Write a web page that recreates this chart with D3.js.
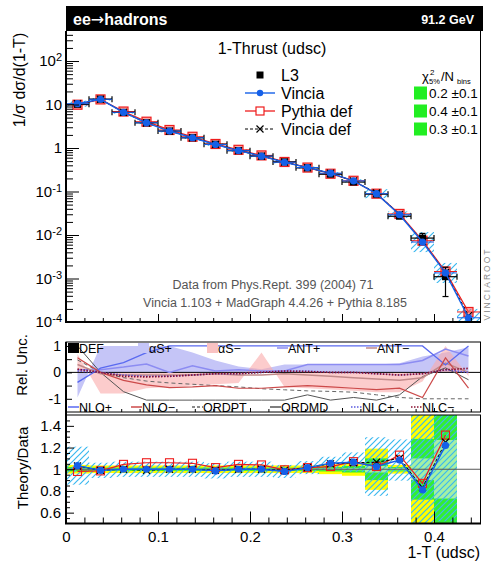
<!DOCTYPE html>
<html>
<head>
<meta charset="utf-8">
<script src="https://cdn.jsdelivr.net/npm/d3@7"></script>
<style>
body { margin: 0; background: #fff; }
text { font-family: "Liberation Sans", Arial, sans-serif; }
</style>
</head>
<body>
<svg width="491" height="564"></svg>
<script>
// bins of 1-T
var edges = [0, 0.025, 0.05, 0.075, 0.1, 0.125, 0.15, 0.175, 0.2, 0.225, 0.25, 0.275, 0.3, 0.325, 0.35, 0.375, 0.4, 0.425, 0.45];

// L3 data, 1/sigma dsigma/d(1-T)
var l3 = [10.1, 13.3, 6.6, 3.8, 2.45, 1.72, 1.22, 0.87, 0.65, 0.48, 0.35, 0.25, 0.165, 0.087, 0.027, 0.0085, 0.0011];

// theory / data
var rVincia    = [1.033, 0.99, 1.0, 1.0, 1.0, 1.0, 0.985, 1.0, 1.0, 0.98, 1.015, 1.055, 1.065, 1.025, 1.085, 0.81, 1.22];
var rPythia    = [0.98, 0.985, 1.045, 1.06, 1.06, 1.055, 1.015, 1.045, 1.04, 0.995, 1.015, 1.025, 1.07, 1.025, 1.13, 0.87, 1.315];
var rVinciaDef = [1.03, 0.99, 1.0, 0.99, 1.0, 1.0, 0.99, 1.0, 1.0, 0.99, 1.015, 1.05, 1.06, 1.065, 1.1, 0.83, 1.25];

// last bin (no data point)
var tailVincia = 1.25e-4, tailPythia = 1.7e-4, tailVinciaDef = 1.4e-4;

// relative data uncertainty bands and Vincia uncertainty (hatched)
var errPale   = [0.006, 0.005, 0.005, 0.005, 0.005, 0.005, 0.005, 0.005, 0.006, 0.006, 0.006, 0.008, 0.01, 0.03, 0.01, 0.1, 0.27];
var errGreen  = [0.02, 0.015, 0.015, 0.015, 0.015, 0.015, 0.015, 0.015, 0.015, 0.015, 0.015, 0.02, 0.03, 0.1, 0.02, 0.28, 0.65];
var errYellow = [0.04, 0.035, 0.035, 0.035, 0.035, 0.035, 0.035, 0.035, 0.035, 0.035, 0.035, 0.045, 0.06, 0.19, 0.04, 0.6, 1.2];
var errVincia = [0.175, 0.07, 0.07, 0.07, 0.07, 0.07, 0.07, 0.07, 0.07, 0.06, 0.06, 0.06, 0.09, 0.27, 0.19, 0.7, 0.7];
var errTail = 0.6;

// relative uncertainties (middle panel), 18 bins
var alphaSPlus  = [-0.95, 1.0, 1.0, 1.0, 1.0, 0.75, 0.45, 0.22, 0.12, 0.3, 0.3, 0.3, 0.3, 0.3, 0.35, 0.6, 0.75, 0.95];
var alphaSMinus = [0.7, -0.8, -0.8, -0.6, -0.55, -0.5, -0.45, -0.4, 0.75, -0.55, -0.6, -0.65, -0.7, -0.75, -0.75, -0.35, 1.0, -0.15];
var antPlus  = [0.1, 0.1, 0.2, 0.32, 0.0, 0.25, 0.05, 0.1, 0.05, 0.05, 0.3, 0.3, 0.3, 0.3, 0.3, 0.45, 0.88, 0.62];
var antMinus = [0.3, -0.05, -0.1, -0.1, -0.1, -0.1, -0.05, -0.1, -0.1, -0.05, -0.1, -0.15, -0.2, -0.25, -0.3, -0.2, 0.35, 0.0];
var nloPlus  = [-0.38, 0.16, 0.37, 0.75, 1.0, 1.0, 1.0, 1.0, 1.0, 1.0, 1.0, 1.0, 1.0, 1.0, 1.0, 1.0, 0.28, 1.0];
var nloMinus = [0.55, 0.0, -0.3, -0.47, -0.58, -0.55, -0.5, -0.6, -0.6, -0.55, -0.5, -0.55, -0.6, -0.65, -0.6, -0.95, 0.55, -0.6];
var ordPT = [0.47, 0.0, -0.2, -0.33, -0.4, -0.45, -0.5, -0.55, -0.62, -0.66, -0.7, -0.72, -0.75, -0.85, -0.95, -1.0, -1.0, -1.0];
var ordMD = [1.0, 0.0, -0.73, -1.05, -1.05, -1.05, -1.05, -1.05, -1.05, -1.05, -0.85, -1.05, -0.95, -1.05, -0.85, -0.16, 0.17, -0.28];
var nlcPlus  = [0.05, 0.0, -0.1, -0.15, -0.15, -0.1, -0.05, -0.05, 0.0, 0.05, 0.05, 0.0, 0.0, -0.05, -0.1, -0.05, 0.1, 0.0];
var nlcMinus = [0.12, 0.0, -0.15, -0.17, -0.15, -0.1, -0.05, -0.05, 0.0, 0.05, 0.03, 0.0, 0.0, -0.05, -0.1, -0.05, 0.1, 0.15];

var legendModels = ["L3", "Vincia", "Pythia def", "Vincia def"];
var chi2 = ["0.2 \u00b10.1", "0.4 \u00b10.1", "0.3 \u00b10.1"];
var xTicks = [0, 0.1, 0.2, 0.3, 0.4];
var ratioTicks = [0.6, 0.8, 1, 1.2, 1.4];

var blue = "#1560e8", red = "#ee1c1c";

var svg = d3.select("svg");
var centers = edges.slice(0, -1).map(function(e, i) { return (e + edges[i + 1]) / 2; });

var x = d3.scaleLinear().domain([0, 0.45]).range([66, 480]);
var yMain = d3.scaleLog().domain([1e-4, 490]).range([322, 31]);
var yRel = d3.scaleLinear().domain([-1.5, 1.15]).range([412, 342]);
var yRat = d3.scaleLinear().domain([0.5, 1.5]).range([523.5, 415]);

var defs = svg.append("defs");
defs.append("pattern").attr("id", "hatch").attr("patternUnits", "userSpaceOnUse")
  .attr("width", 6).attr("height", 6)
  .append("path").attr("d", "M-1,1 l2,-2 M0,6 l6,-6 M5,7 l2,-2")
  .attr("stroke", "#3ab8f0").attr("stroke-width", 1.2);

function clip(id, y0, y1) {
  defs.append("clipPath").attr("id", id).append("rect")
    .attr("x", 66).attr("y", y0).attr("width", 414).attr("height", y1 - y0);
}
clip("cMain", 31, 322);
clip("cRel", 342, 412);
clip("cRat", 415, 523.5);

// ---------- header ----------
svg.append("rect").attr("x", 66).attr("y", 6).attr("width", 417).attr("height", 25).attr("fill", "#000");
var hdr = svg.append("text").attr("x", 73).attr("y", 25).attr("fill", "#fff").style("font-weight", "bold")
  .style("font-size", "16px");
hdr.append("tspan").text("ee");
hdr.append("tspan").style("font-family", "'DejaVu Sans'").style("font-weight", "normal").text("\u2192");
hdr.append("tspan").text("hadrons");
svg.append("text").attr("x", 474).attr("y", 23.5).attr("fill", "#fff").style("font-weight", "bold")
  .style("font-size", "12.5px").attr("text-anchor", "end").text("91.2 GeV");

// ---------- main panel ----------
var gMain = svg.append("g").attr("clip-path", "url(#cMain)");

var vinciaMain = l3.map(function(v, i) { return v * rVincia[i]; }).concat([tailVincia]);
var pythiaMain = l3.map(function(v, i) { return v * rPythia[i]; }).concat([tailPythia]);
var vdefMain = l3.map(function(v, i) { return v * rVinciaDef[i]; }).concat([tailVinciaDef]);
var hatchMain = errVincia.concat([errTail]);

gMain.selectAll(".hm").data(vinciaMain).enter().append("rect")
  .attr("x", function(d, i) { return x(edges[i]); })
  .attr("width", function(d, i) { return x(edges[i + 1]) - x(edges[i]); })
  .attr("y", function(d, i) { return yMain(d * (1 + hatchMain[i])); })
  .attr("height", function(d, i) { return yMain(d / (1 + hatchMain[i])) - yMain(d * (1 + hatchMain[i])); })
  .attr("fill", "url(#hatch)");

var lineMain = d3.line().x(function(d, i) { return x(centers[i]); }).y(function(d) { return yMain(d); });

function hbars(g, vals, sc, col) {
  g.selectAll(null).data(vals).enter().append("line")
    .attr("x1", function(d, i) { return x(edges[i]); })
    .attr("x2", function(d, i) { return x(edges[i + 1]); })
    .attr("y1", function(d) { return sc(d); }).attr("y2", function(d) { return sc(d); })
    .attr("stroke", col).attr("stroke-width", 1);
}

// pythia
gMain.append("path").attr("d", lineMain(pythiaMain)).attr("fill", "none").attr("stroke", red).attr("stroke-width", 1.3);
hbars(gMain, pythiaMain, yMain, red);
gMain.selectAll(".pm").data(pythiaMain).enter().append("rect")
  .attr("x", function(d, i) { return x(centers[i]) - 4.5; })
  .attr("y", function(d) { return yMain(d) - 4.5; })
  .attr("width", 9).attr("height", 9)
  .attr("fill", "rgba(255,90,90,0.55)").attr("stroke", red).attr("stroke-width", 1.2);

// data
var gData = gMain.append("g");
l3.forEach(function(v, i) {
  var cx = x(centers[i]), cy = yMain(v);
  var x0 = x(edges[i]), x1 = x(edges[i + 1]);
  var yu = yMain(v * (1 + errGreen[i])), yl = yMain(v * (1 - errGreen[i]));
  gData.append("line").attr("x1", x0).attr("x2", x1).attr("y1", cy).attr("y2", cy).attr("stroke", "#000").attr("stroke-width", 1.2);
  gData.append("line").attr("x1", x0).attr("x2", x0).attr("y1", cy - 3).attr("y2", cy + 3).attr("stroke", "#000").attr("stroke-width", 1.2);
  gData.append("line").attr("x1", x1).attr("x2", x1).attr("y1", cy - 3).attr("y2", cy + 3).attr("stroke", "#000").attr("stroke-width", 1.2);
  if (cy - yu > 3) {
    gData.append("line").attr("x1", cx).attr("x2", cx).attr("y1", yu).attr("y2", yl).attr("stroke", "#000").attr("stroke-width", 1.2);
    gData.append("line").attr("x1", cx - 3).attr("x2", cx + 3).attr("y1", yu).attr("y2", yu).attr("stroke", "#000").attr("stroke-width", 1.2);
    gData.append("line").attr("x1", cx - 3).attr("x2", cx + 3).attr("y1", yl).attr("y2", yl).attr("stroke", "#000").attr("stroke-width", 1.2);
  }
  gData.append("rect").attr("x", cx - 3.5).attr("y", cy - 3.5).attr("width", 7).attr("height", 7).attr("fill", "#000");
});

function crosses(g, vals, sc) {
  g.selectAll(null).data(vals).enter().append("path")
    .attr("d", function(d, i) {
      var cx = x(centers[i]), cy = sc(d);
      return "M" + (cx - 3.5) + "," + (cy - 3.5) + "L" + (cx + 3.5) + "," + (cy + 3.5) +
        "M" + (cx - 3.5) + "," + (cy + 3.5) + "L" + (cx + 3.5) + "," + (cy - 3.5);
    })
    .attr("stroke", "#000").attr("stroke-width", 1.2);
}

// vincia def
gMain.append("path").attr("d", lineMain(vdefMain)).attr("fill", "none").attr("stroke", "#000")
  .attr("stroke-width", 1).attr("stroke-dasharray", "3,2");
crosses(gMain, vdefMain, yMain);

// vincia
gMain.append("path").attr("d", lineMain(vinciaMain)).attr("fill", "none").attr("stroke", blue).attr("stroke-width", 1.4);
hbars(gMain, vinciaMain, yMain, blue);
gMain.selectAll(".vm").data(vinciaMain).enter().append("circle")
  .attr("cx", function(d, i) { return x(centers[i]); })
  .attr("cy", function(d) { return yMain(d); })
  .attr("r", 3.6).attr("fill", blue);

// main axes
var majorsMain = [1e-4, 1e-3, 1e-2, 1e-1, 1, 10, 100];
var minorsMain = [];
majorsMain.forEach(function(m) { [2, 3, 4, 5, 6, 7, 8, 9].forEach(function(k) { if (m * k < 490) minorsMain.push(m * k); }); });

svg.append("g").attr("transform", "translate(66,0)")
  .call(d3.axisRight(yMain).tickValues(minorsMain).tickSize(7).tickFormat(""));
var axMain = svg.append("g").attr("transform", "translate(66,0)")
  .call(d3.axisLeft(yMain).tickValues(majorsMain).tickSize(0).tickPadding(4));
svg.append("g").attr("transform", "translate(66,0)")
  .call(d3.axisRight(yMain).tickValues(majorsMain).tickSize(13).tickFormat(""));

var expo = { "0.0001": "-4", "0.001": "-3", "0.01": "-2", "0.1": "-1", "100": "2" };
axMain.selectAll(".tick text").each(function(d) {
  var t = d3.select(this).text("").style("font-size", "15px");
  if (d === 1) { t.text("1"); return; }
  if (d === 10) { t.text("10"); return; }
  t.append("tspan").text("10");
  t.append("tspan").attr("dy", "-0.45em").style("font-size", "11px").text(expo[String(d)]);
});

// bottom ticks (shared)
var minorX = [0.02, 0.04, 0.06, 0.08, 0.12, 0.14, 0.16, 0.18, 0.22, 0.24, 0.26, 0.28, 0.32, 0.34, 0.36, 0.38, 0.42, 0.44];
function xTickRow(y, maj, mino) {
  svg.append("g").attr("transform", "translate(0," + y + ")")
    .call(d3.axisTop(x).tickValues(minorX).tickSize(mino).tickFormat(""));
  svg.append("g").attr("transform", "translate(0," + y + ")")
    .call(d3.axisTop(x).tickValues(xTicks).tickSize(maj).tickFormat(""));
}
xTickRow(322, 8, 4);

// frame
svg.append("line").attr("x1", 480.5).attr("x2", 480.5).attr("y1", 31).attr("y2", 322).attr("stroke", "#000").attr("stroke-width", 1);
svg.append("line").attr("x1", 66).attr("x2", 66).attr("y1", 31).attr("y2", 323).attr("stroke", "#000").attr("stroke-width", 2);
svg.append("line").attr("x1", 65).attr("x2", 481).attr("y1", 322).attr("y2", 322).attr("stroke", "#000").attr("stroke-width", 2);

svg.append("text").attr("transform", "translate(25,80) rotate(-90)").attr("text-anchor", "middle")
  .style("font-size", "16px").text("1/\u03c3 d\u03c3/d(1-T)");

svg.append("text").attr("x", 272).attr("y", 54).attr("text-anchor", "middle").style("font-size", "16px").text("1-Thrust (udsc)");

// legend
var legY = [75, 93, 111, 129];
svg.append("rect").attr("x", 256.5).attr("y", legY[0] - 3.5).attr("width", 7).attr("height", 7).attr("fill", "#000");
svg.append("line").attr("x1", 245).attr("x2", 275).attr("y1", legY[1]).attr("y2", legY[1]).attr("stroke", blue).attr("stroke-width", 1.4);
svg.append("circle").attr("cx", 260).attr("cy", legY[1]).attr("r", 3.2).attr("fill", blue);
svg.append("line").attr("x1", 245).attr("x2", 275).attr("y1", legY[2]).attr("y2", legY[2]).attr("stroke", red).attr("stroke-width", 1.3);
svg.append("rect").attr("x", 256).attr("y", legY[2] - 4).attr("width", 8).attr("height", 8).attr("fill", "#fff").attr("stroke", red).attr("stroke-width", 1.2);
svg.append("line").attr("x1", 245).attr("x2", 275).attr("y1", legY[3]).attr("y2", legY[3]).attr("stroke", "#000").attr("stroke-dasharray", "3,2");
svg.append("path").attr("d", "M256.5," + (legY[3] - 3.5) + "l7,7M256.5," + (legY[3] + 3.5) + "l7,-7").attr("stroke", "#000").attr("stroke-width", 1.2);
svg.selectAll(".legt").data(legendModels).enter().append("text")
  .attr("x", 281).attr("y", function(d, i) { return legY[i] + 5.5; })
  .style("font-size", "16px").text(function(d) { return d; });

// chi2 box
svg.append("text").attr("x", 422).attr("y", 81).style("font-size", "13px").text("\u03c7");
svg.append("text").attr("x", 430).attr("y", 75).style("font-size", "8px").text("2");
svg.append("text").attr("x", 429).attr("y", 84).style("font-size", "7.5px").text("5%");
svg.append("text").attr("x", 441).attr("y", 81).style("font-size", "13px").text("/N");
svg.append("text").attr("x", 457).attr("y", 84).style("font-size", "7.5px").text("bins");
svg.selectAll(".chib").data(chi2).enter().append("rect")
  .attr("x", 414).attr("y", function(d, i) { return legY[i + 1] - 6.5; })
  .attr("width", 13).attr("height", 13).attr("fill", "#22ee22");
svg.selectAll(".chit").data(chi2).enter().append("text")
  .attr("x", 429).attr("y", function(d, i) { return legY[i + 1] + 5; })
  .style("font-size", "13.5px").text(function(d) { return d; });

svg.append("text").attr("x", 273).attr("y", 289).attr("text-anchor", "middle").attr("fill", "#555")
  .style("font-size", "12.5px").text("Data from Phys.Rept. 399 (2004) 71");
svg.append("text").attr("x", 275).attr("y", 307).attr("text-anchor", "middle").attr("fill", "#555")
  .style("font-size", "12.5px").text("Vincia 1.103 + MadGraph 4.4.26 + Pythia 8.185");

svg.append("text").attr("transform", "translate(490,284) rotate(-90)").attr("text-anchor", "middle")
  .attr("fill", "#888").style("font-size", "8.5px").style("letter-spacing", "2px").text("VINCIAROOT");

// ---------- middle panel: relative uncertainties ----------
var gRel = svg.append("g").attr("clip-path", "url(#cRel)");
var areaRel = d3.area().x(function(d, i) { return x(centers[i]); }).y0(yRel(0)).y1(function(d) { return yRel(d); });
var lineRel = d3.line().x(function(d, i) { return x(centers[i]); }).y(function(d) { return yRel(d); });

gRel.append("path").attr("d", areaRel(alphaSPlus)).attr("fill", "#c5c5f7");
gRel.append("path").attr("d", areaRel(alphaSMinus)).attr("fill", "rgba(250,170,170,0.6)");
gRel.append("line").attr("x1", 66).attr("x2", 480).attr("y1", yRel(0)).attr("y2", yRel(0)).attr("stroke", "#000").attr("stroke-width", 1);

var relSeries = [
  { v: ordPT, c: "#666", dash: "4,3", w: 1 },
  { v: ordMD, c: "#555", dash: null, w: 1 },
  { v: antPlus, c: "#8c8cf2", dash: null, w: 1.5 },
  { v: antMinus, c: "#c08a8a", dash: null, w: 1.5 },
  { v: nloPlus, c: "#5a6af0", dash: null, w: 1.3 },
  { v: nloMinus, c: "#cc4a4a", dash: null, w: 1.2 },
  { v: nlcPlus, c: "#5a5ae0", dash: "1.5,1.5", w: 1.5 },
  { v: nlcMinus, c: "#8a1030", dash: "1.5,1.5", w: 1.7 }
];
relSeries.forEach(function(s) {
  gRel.append("path").attr("d", lineRel(s.v)).attr("fill", "none").attr("stroke", s.c)
    .attr("stroke-width", s.w).attr("stroke-dasharray", s.dash);
});

svg.append("rect").attr("x", 66).attr("y", 342).attr("width", 414.5).attr("height", 70).attr("fill", "none").attr("stroke", "#000").attr("stroke-width", 1);
svg.append("line").attr("x1", 66).attr("x2", 66).attr("y1", 342).attr("y2", 413).attr("stroke", "#000").attr("stroke-width", 2);
var axRel = svg.append("g").attr("transform", "translate(66,0)")
  .call(d3.axisLeft(yRel).tickValues([-1, 0, 1]).tickSize(0).tickPadding(5));
axRel.selectAll(".tick text").style("font-size", "14px").text(function(d) { return d === -1 ? "-1" : d; });
svg.append("g").attr("transform", "translate(66,0)")
  .call(d3.axisRight(yRel).tickValues([-1, -0.5, 0, 0.5, 1]).tickSize(6).tickFormat(""));
xTickRow(412, 4, 3);

svg.append("text").attr("transform", "translate(27,365) rotate(-90)").attr("text-anchor", "middle")
  .style("font-size", "15px").text("Rel. Unc.");

// middle legend
var relLeg = [
  { t: "DEF", x: 68, y: 348, box: "#000" },
  { t: "\u03b1S+", x: 138, y: 348, box: "#c5c5f7" },
  { t: "\u03b1S\u2212", x: 207, y: 348, box: "#f9c2c2" },
  { t: "ANT+", x: 277, y: 348, c: "#8c8cf2" },
  { t: "ANT\u2212", x: 366, y: 348, c: "#c08a8a" },
  { t: "NLO+", x: 68, y: 407, c: "#5a6af0" },
  { t: "NLO\u2212", x: 131, y: 407, c: "#cc4a4a" },
  { t: "ORDPT", x: 192, y: 407, c: "#666", dash: "3,2" },
  { t: "ORDMD", x: 270, y: 407, c: "#555" },
  { t: "NLC+", x: 351, y: 407, c: "#5a5ae0", dash: "1.5,1.5" },
  { t: "NLC\u2212", x: 411, y: 407, c: "#8a1030", dash: "1.5,1.5" }
];
relLeg.forEach(function(l) {
  if (l.box) {
    svg.append("rect").attr("x", l.x).attr("y", l.y - 5).attr("width", 11).attr("height", 10).attr("fill", l.box);
  } else {
    svg.append("line").attr("x1", l.x).attr("x2", l.x + 11).attr("y1", l.y).attr("y2", l.y)
      .attr("stroke", l.c).attr("stroke-width", 1.5).attr("stroke-dasharray", l.dash || null);
  }
  svg.append("text").attr("x", l.x + 11).attr("y", l.y + 4.5).style("font-size", "12.5px").text(l.t);
});

// ---------- ratio panel ----------
var gRat = svg.append("g").attr("clip-path", "url(#cRat)");
var bandDefs = [{ e: errYellow, c: "#ffff00" }, { e: errGreen, c: "#33ee33" }, { e: errPale, c: "#a4f0a4" }];
bandDefs.forEach(function(b) {
  gRat.selectAll(null).data(b.e).enter().append("rect")
    .attr("x", function(d, i) { return x(edges[i]); })
    .attr("width", function(d, i) { return x(edges[i + 1]) - x(edges[i]); })
    .attr("y", function(d) { return yRat(1 + d); })
    .attr("height", function(d) { return yRat(1 - d) - yRat(1 + d); })
    .attr("fill", b.c);
});
gRat.selectAll(".hr").data(rVincia).enter().append("rect")
  .attr("x", function(d, i) { return x(edges[i]); })
  .attr("width", function(d, i) { return x(edges[i + 1]) - x(edges[i]); })
  .attr("y", function(d, i) { return yRat(d + errVincia[i]); })
  .attr("height", function(d, i) { return yRat(d - errVincia[i]) - yRat(d + errVincia[i]); })
  .attr("fill", "url(#hatch)");
gRat.append("line").attr("x1", 66).attr("x2", 480).attr("y1", yRat(1)).attr("y2", yRat(1)).attr("stroke", "#555").attr("stroke-width", 1);

var lineRat = d3.line().x(function(d, i) { return x(centers[i]); }).y(function(d) { return yRat(d); });
gRat.append("path").attr("d", lineRat(rPythia)).attr("fill", "none").attr("stroke", red).attr("stroke-width", 1.2);
gRat.selectAll(".pr").data(rPythia).enter().append("rect")
  .attr("x", function(d, i) { return x(centers[i]) - 4; })
  .attr("y", function(d) { return yRat(d) - 4; })
  .attr("width", 8).attr("height", 8).attr("fill", "none").attr("stroke", red).attr("stroke-width", 1.1);
gRat.append("path").attr("d", lineRat(rVinciaDef)).attr("fill", "none").attr("stroke", "#000")
  .attr("stroke-width", 1).attr("stroke-dasharray", "3,2");
crosses(gRat, rVinciaDef, yRat);
gRat.append("path").attr("d", lineRat(rVincia)).attr("fill", "none").attr("stroke", blue).attr("stroke-width", 1.4);
gRat.selectAll(".vr").data(rVincia).enter().append("circle")
  .attr("cx", function(d, i) { return x(centers[i]); })
  .attr("cy", function(d) { return yRat(d); })
  .attr("r", 3.6).attr("fill", blue);

svg.append("rect").attr("x", 66).attr("y", 415).attr("width", 414.5).attr("height", 108.5).attr("fill", "none").attr("stroke", "#000").attr("stroke-width", 1);
svg.append("line").attr("x1", 66).attr("x2", 66).attr("y1", 413).attr("y2", 524).attr("stroke", "#000").attr("stroke-width", 2);
svg.append("line").attr("x1", 65).attr("x2", 481).attr("y1", 523.5).attr("y2", 523.5).attr("stroke", "#000").attr("stroke-width", 2);

var axRat = svg.append("g").attr("transform", "translate(66,0)")
  .call(d3.axisLeft(yRat).tickValues(ratioTicks).tickSize(0).tickPadding(5)
    .tickFormat(function(d) { return d === 1 ? "1" : d3.format(".1f")(d); }));
axRat.selectAll(".tick text").style("font-size", "15px");
svg.append("g").attr("transform", "translate(66,0)")
  .call(d3.axisRight(yRat).tickValues([0.55, 0.65, 0.7, 0.75, 0.85, 0.9, 0.95, 1.05, 1.1, 1.15, 1.25, 1.3, 1.35, 1.45]).tickSize(4).tickFormat(""));
svg.append("g").attr("transform", "translate(66,0)")
  .call(d3.axisRight(yRat).tickValues(ratioTicks).tickSize(8).tickFormat(""));
xTickRow(523.5, 12, 6);

var axX = svg.append("g").attr("transform", "translate(0,523.5)")
  .call(d3.axisBottom(x).tickValues(xTicks).tickSize(0).tickPadding(8).tickFormat(function(d) { return d === 0 ? "0" : d3.format(".1f")(d); }));
axX.selectAll(".tick text").style("font-size", "15px");

svg.append("text").attr("transform", "translate(28,468) rotate(-90)").attr("text-anchor", "middle")
  .style("font-size", "15px").text("Theory/Data");
svg.append("text").attr("x", 480).attr("y", 558).attr("text-anchor", "end").style("font-size", "16px").text("1-T (udsc)");

svg.selectAll(".domain").remove();
</script>
</body>
</html>
